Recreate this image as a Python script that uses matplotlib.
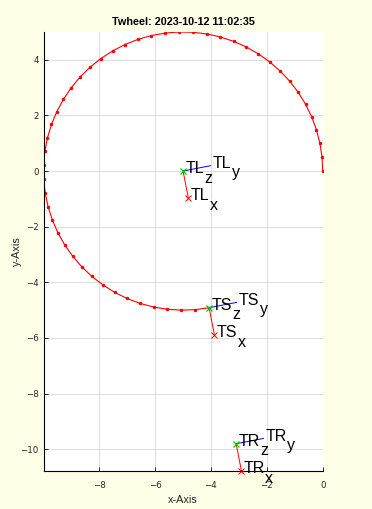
import matplotlib
matplotlib.use('Agg')
from matplotlib import pyplot as plt

# wheel path (x, y)
path_x = [0.0, -0.025, -0.100, -0.223, -0.395, -0.612, -0.873, -1.176, -1.516, -1.892,
          -2.299, -2.732, -3.188, -3.662, -4.150, -4.646, -5.146, -5.644, -6.136, -6.616,
          -7.081, -7.524, -7.943, -8.331, -8.687, -9.006, -9.284, -9.520, -9.711, -9.855,
          -9.950, -9.996, -9.991, -9.937, -9.834, -9.682, -9.484, -9.241, -8.955, -8.630,
          -8.268, -7.874, -7.451, -7.004, -6.537, -6.054, -5.561, -5.062, -4.563, -4.067]
path_y = [0.0, 0.499, 0.993, 1.478, 1.947, 2.397, 2.823, 3.221, 3.587, 3.917,
          4.207, 4.456, 4.660, 4.818, 4.927, 4.987, 4.998, 4.958, 4.869, 4.732,
          4.546, 4.316, 4.043, 3.729, 3.377, 2.992, 2.578, 2.137, 1.675, 1.196,
          0.706, 0.208, -0.292, -0.789, -1.278, -1.754, -2.213, -2.649, -3.059, -3.439,
          -3.784, -4.091, -4.358, -4.581, -4.758, -4.888, -4.968, -5.000, -4.981, -4.912]

# coordinate frames
frame_names = ['TL', 'TS', 'TR']
frame_x = [-5.0, -4.067, -3.10]
frame_y = [0.0, -4.912, -9.80]
x_axis_dir = [0.19, -0.98]
y_axis_dir = [0.98, 0.19]

title = 'Twheel: 2023-10-12 11:02:35'

bg = '#FFFFE8'
label_font = 'Liberation Sans'
fs_frame = 11.5

fig = plt.figure(figsize=(3.72, 5.09), dpi=100, facecolor=bg)
ax = fig.add_axes([0.117, 0.0747, 0.7505, 0.8625])
ax.set_facecolor('white')

ax.plot(path_x, path_y, color='#FF0000', lw=0.8, marker='.', markersize=3)


def frame_label(x, y, main, sub):
    t = ax.annotate(main, xy=(x, y), xytext=(1.5, -1.5), textcoords='offset points',
                    ha='left', va='baseline', fontsize=fs_frame, family=label_font,
                    annotation_clip=False, zorder=5)
    ax.annotate(sub, xy=(1, 0), xycoords=t, xytext=(0.3, -4.8), textcoords='offset points',
                ha='left', va='baseline', fontsize=fs_frame, family=label_font,
                annotation_clip=False, zorder=5)


tips_y = []
for name, ox, oy in zip(frame_names, frame_x, frame_y):
    xt = (ox + x_axis_dir[0], oy + x_axis_dir[1])
    yt = (ox + y_axis_dir[0], oy + y_axis_dir[1])
    ax.plot([ox, xt[0]], [oy, xt[1]], color='#FF0000', lw=0.7)
    ax.plot([xt[0]], [xt[1]], color='#FF0000', marker='x', markersize=4, mew=0.7, clip_on=False)
    ax.plot([ox, yt[0]], [oy, yt[1]], color='#0000FF', lw=0.7)
    ax.plot([ox], [oy], color='#00CC00', marker='x', markersize=4, mew=0.9)
    frame_label(xt[0], xt[1], name, 'x')
    frame_label(yt[0], yt[1], name, 'y')
    frame_label(ox, oy, name, 'z')
    tips_y.append(xt[1])

# tight limits like "axis tight"
ax.set_xlim(min(path_x), max(path_x))
ax.set_ylim(min(tips_y + path_y), max(path_y))

ax.set_xticks([-8, -6, -4, -2, 0])
ax.set_yticks([4, 2, 0, -2, -4, -6, -8, -10])
ax.grid(True, color='#DCDCDC', lw=0.7)
ax.set_axisbelow(True)
for s in ['top', 'right']:
    ax.spines[s].set_visible(False)
for s in ['left', 'bottom']:
    ax.spines[s].set_linewidth(0.8)
ax.tick_params(direction='in', length=3, width=0.6, labelsize=6.2, labelcolor='#262626')
ax.tick_params(axis='x', pad=7)
ax.tick_params(axis='y', pad=3.5)

ax.set_title(title, fontsize=7.8, fontweight='bold', family=label_font, pad=5)
ax.set_xlabel('x-Axis', fontsize=7.8, family=label_font, color='#262626', labelpad=4)
ax.set_ylabel('y-Axis', fontsize=7.8, family=label_font, color='#262626', labelpad=-1)

fig.savefig('out.png', dpi=100, facecolor=bg)
